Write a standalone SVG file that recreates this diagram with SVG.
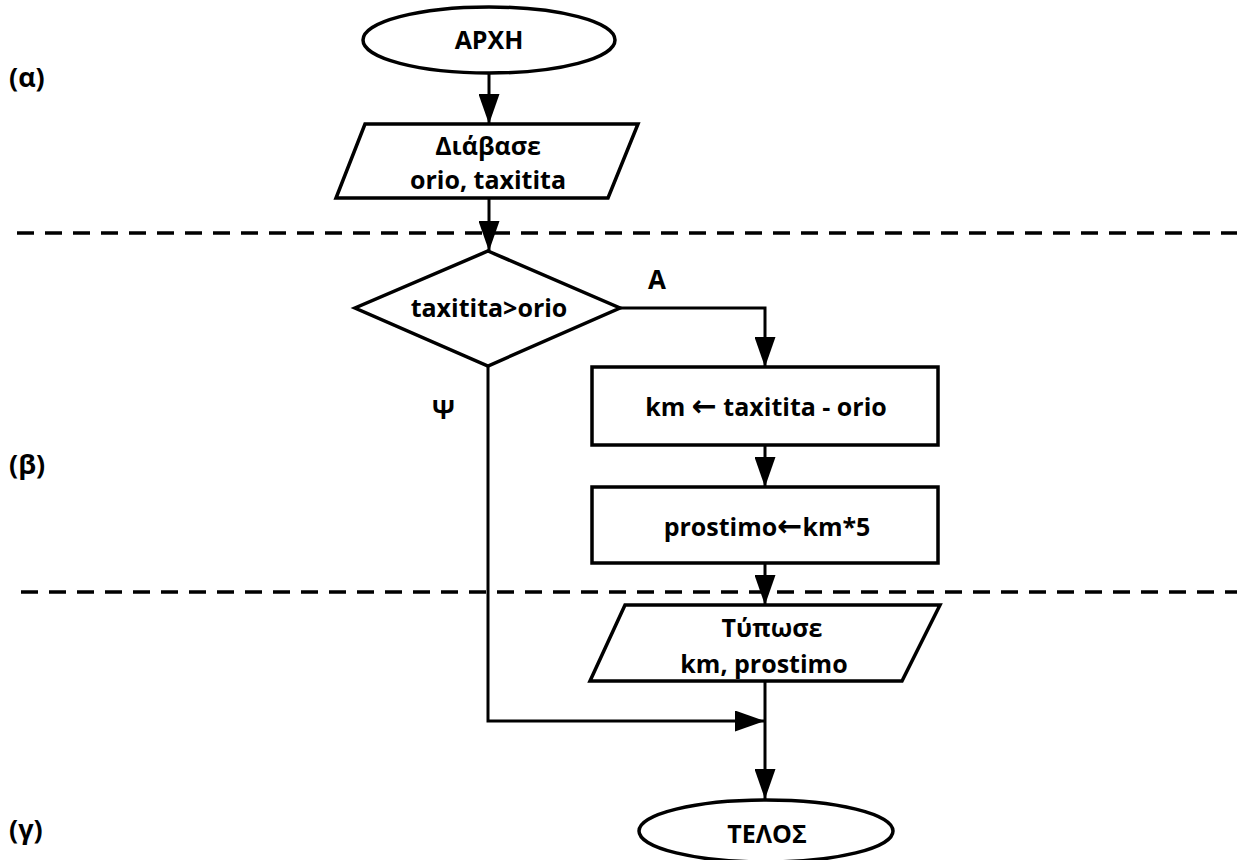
<svg xmlns="http://www.w3.org/2000/svg" width="1237" height="860" viewBox="0 0 1237 860">
<style>
  .shape { fill: #ffffff; stroke: #000000; stroke-width: 3.5; }
  .t { font-family: "Open Sans", "Noto Sans", "DejaVu Sans", sans-serif; font-weight: 700; font-size: 25px; fill: #000000; text-anchor: middle; }
  .lbl { font-family: "Open Sans", "Noto Sans", "DejaVu Sans", sans-serif; font-weight: 700; font-size: 27px; fill: #000000; }
  .arr { font-family: "DejaVu Sans", sans-serif; font-size: 30px; font-weight: 700; }
  .conn { fill: none; stroke: #000000; stroke-width: 3; marker-end: url(#arrow); }
  .dash { fill: none; stroke: #000000; stroke-width: 3.5; stroke-dasharray: 17 11; }
</style>
<defs>
  <marker id="arrow" viewBox="0 0 30 21" refX="30" refY="10.5" markerWidth="30" markerHeight="21" markerUnits="userSpaceOnUse" orient="auto">
    <path d="M0,0 L30,10.5 L0,21 Z" fill="#000000"/>
  </marker>
</defs>
<rect x="0" y="0" width="1237" height="860" fill="#ffffff"/>

<g id="dividers">
  <line class="dash" x1="17" y1="233" x2="1237" y2="233"/>
  <line class="dash" x1="21" y1="592" x2="1237" y2="592"/>
</g>

<g id="section-labels">
  <text class="lbl" x="9" y="87">(α)</text>
  <text class="lbl" x="9" y="474">(β)</text>
  <text class="lbl" x="9" y="839">(γ)</text>
</g>

<g id="connectors">
  <path class="conn" d="M489,73 L489,124"/>
  <path class="conn" d="M489,198 L489,251"/>
  <path class="conn" d="M620,308 L765,308 L765,367"/>
  <path class="conn" d="M765,445 L765,487"/>
  <path class="conn" d="M765,563 L765,605"/>
  <path class="conn" d="M765,681 L765,799"/>
  <path class="conn" d="M488,366 L488,721 L765,721"/>
  <text class="lbl" x="648" y="289" style="font-size:26px">A</text>
  <text class="lbl" x="432" y="419" style="font-size:26px">Ψ</text>
</g>

<g id="start">
  <ellipse class="shape" cx="489" cy="40" rx="126" ry="33"/>
  <text class="t" x="489" y="49">ΑΡΧΗ</text>
</g>

<g id="read">
  <polygon class="shape" points="365,124 638,124 608,198 336,198"/>
  <text class="t" x="488" y="155">Διάβασε</text>
  <text class="t" x="488" y="189">orio, taxitita</text>
</g>

<g id="decision">
  <polygon class="shape" points="488,251 620,308 488,366 355,308"/>
  <text class="t" x="489" y="317">taxitita&gt;orio</text>
</g>

<g id="calc-km">
  <rect class="shape" x="592" y="367" width="346" height="78"/>
  <text class="t" x="766" y="416">km <tspan class="arr">←</tspan> taxitita - orio</text>
</g>

<g id="calc-fine">
  <rect class="shape" x="592" y="487" width="346" height="76"/>
  <text class="t" x="767" y="536">prostimo<tspan class="arr">←</tspan>km*5</text>
</g>

<g id="print">
  <polygon class="shape" points="625,605 940,605 902,681 590,681"/>
  <text class="t" x="772" y="637">Τύπωσε</text>
  <text class="t" x="764" y="673">km, prostimo</text>
</g>

<g id="end">
  <ellipse class="shape" cx="766" cy="831" rx="127" ry="31"/>
  <text class="t" x="767" y="843">ΤΕΛΟΣ</text>
</g>
</svg>
